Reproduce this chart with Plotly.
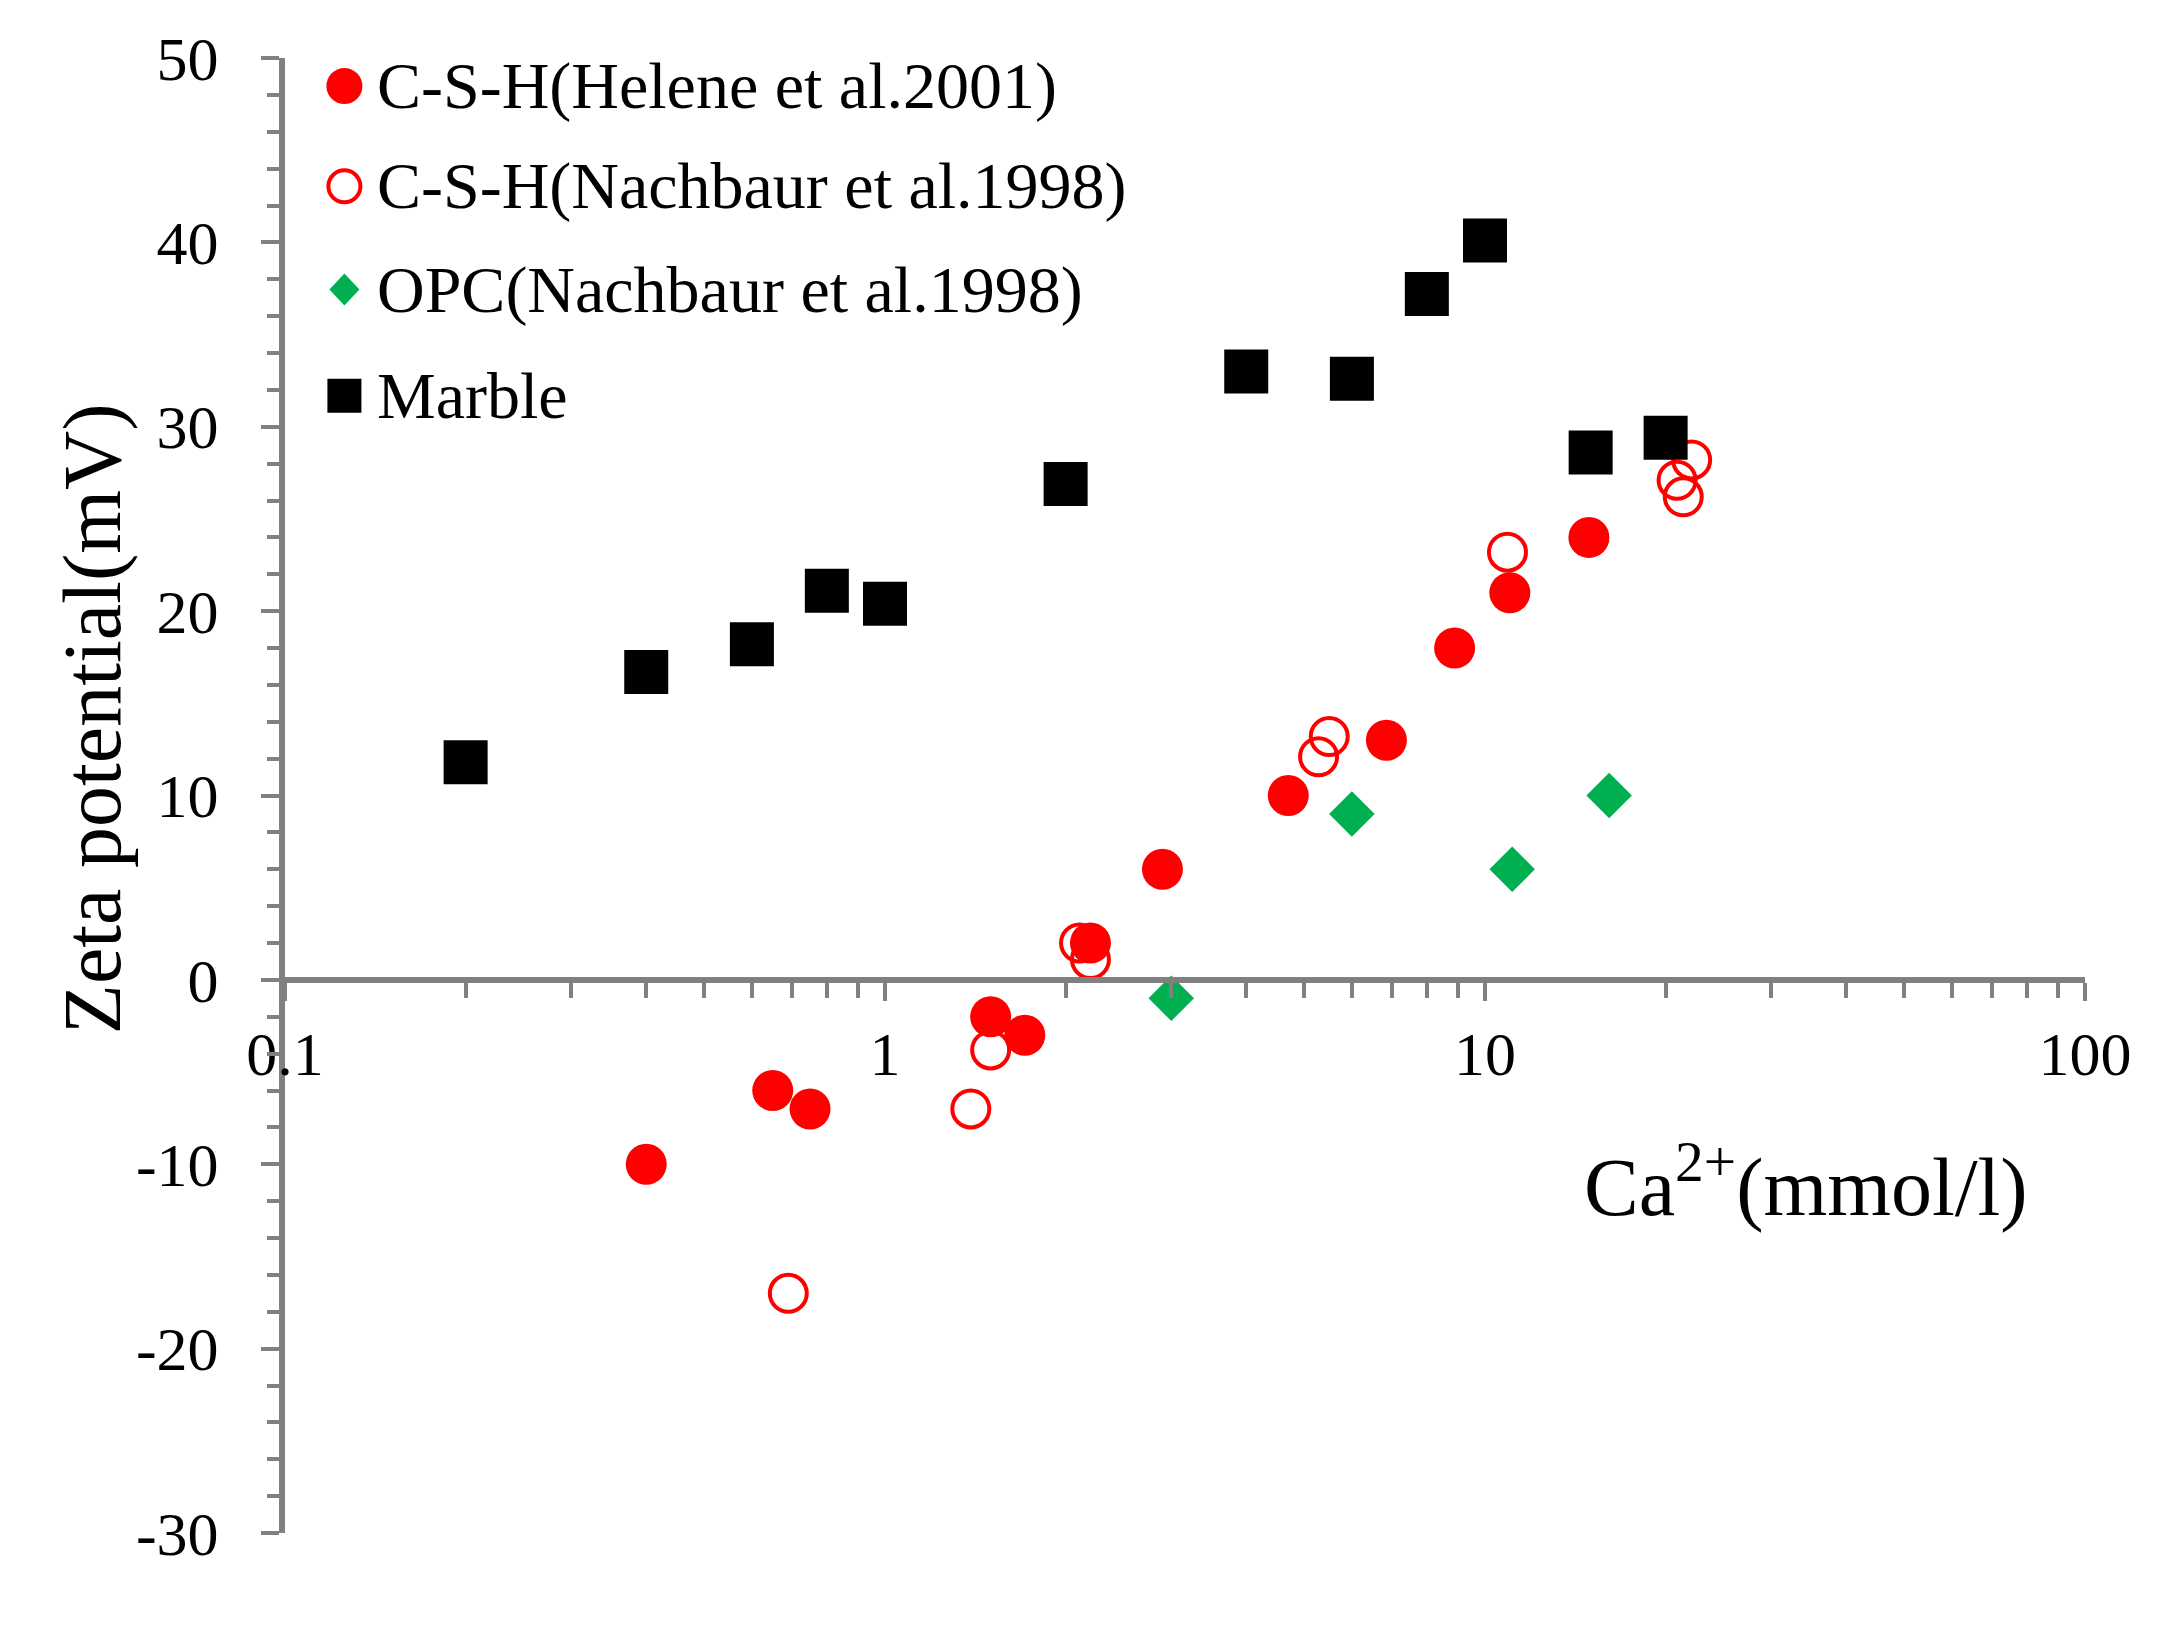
import plotly.graph_objects as go

# ---- data ----
marble_x = [0.2, 0.4, 0.6, 0.8, 1.0, 2.0, 4.0, 6.0, 8.0, 10.0, 15.0, 20.0]
marble_y = [11.8, 16.7, 18.2, 21.1, 20.4, 26.9, 33.0, 32.6, 37.2, 40.1, 28.6, 29.4]

helene_x = [0.4, 0.65, 0.75, 1.5, 1.71, 2.2, 2.9, 4.7, 6.85, 8.9, 11.0, 14.9]
helene_y = [-10.0, -6.0, -7.0, -2.0, -3.0, 2.0, 6.0, 10.0, 13.0, 18.0, 21.0, 24.0]

nach_x = [0.69, 1.39, 1.5, 2.11, 2.2, 5.28, 5.5, 10.9, 20.9, 21.4, 22.1]
nach_y = [-17.0, -7.0, -3.8, 2.0, 1.1, 12.1, 13.2, 23.2, 27.1, 26.2, 28.2]

opc_x = [3.0, 6.0, 11.1, 16.1]
opc_y = [-1.0, 9.0, 6.0, 10.0]

series_names = ["C-S-H(Helene et al.2001)", "C-S-H(Nachbaur et al.1998)",
                "OPC(Nachbaur et al.1998)", "Marble"]

x_major_vals = [0.1, 1, 10, 100]
x_major_text = ["0.1", "1", "10", "100"]
x_minor_vals = [m * d for d in (0.1, 1, 10) for m in range(2, 10)]
y_major_vals = [50, 40, 30, 20, 10, 0, -10, -20, -30]
y_major_text = ["50", "40", "30", "20", "10", "0", "-10", "-20", "-30"]

x_title = "Ca<sup>2+</sup>(mmol/l)"
y_title = "Zeta potential(mV)"

FONT = "Liberation Serif"
AXC = "#808080"
RED = "#FF0000"
GREEN = "#00B050"
BLACK = "#000000"

fig = go.Figure()
fig.add_trace(go.Scatter(x=helene_x, y=helene_y, mode="markers", name=series_names[0],
                         marker=dict(symbol="circle", size=41, color=RED)))
fig.add_trace(go.Scatter(x=nach_x, y=nach_y, mode="markers", name=series_names[1],
                         marker=dict(symbol="circle-open", size=37, color=RED,
                                     line=dict(width=4, color=RED))))
fig.add_trace(go.Scatter(x=opc_x, y=opc_y, mode="markers", name=series_names[2],
                         marker=dict(symbol="diamond", size=35, color=GREEN)))
fig.add_trace(go.Scatter(x=marble_x, y=marble_y, mode="markers", name=series_names[3],
                         marker=dict(symbol="square", size=44, color=BLACK)))

fig.update_layout(
    width=2178, height=1644,
    margin=dict(l=277, r=101, t=50, b=119),
    paper_bgcolor="white", plot_bgcolor="white",
    font=dict(family=FONT, size=62, color="black"),
    showlegend=False,
    xaxis=dict(type="log", range=[-1, 2], anchor="free", position=0.375,
               showline=True, linecolor=AXC, linewidth=6, showgrid=False, zeroline=False,
               tickmode="array", tickvals=x_major_vals, ticktext=x_major_text,
               ticks="outside", ticklen=18, tickwidth=4, tickcolor=AXC,
               ticklabelstandoff=0,
               tickfont=dict(family=FONT, size=62, color="black"),
               minor=dict(tickmode="array", tickvals=x_minor_vals, ticks="outside",
                          ticklen=15, tickwidth=4, tickcolor=AXC, showgrid=False)),
    yaxis=dict(range=[-30, 50], showline=True, linecolor=AXC, linewidth=6,
               showgrid=False, zeroline=False,
               tickmode="array", tickvals=y_major_vals, ticktext=y_major_text,
               ticks="outside", ticklen=18, tickwidth=4, tickcolor=AXC,
               ticklabelstandoff=30,
               tickfont=dict(family=FONT, size=62, color="black"),
               minor=dict(dtick=2, ticks="outside", ticklen=12, tickwidth=4,
                          tickcolor=AXC, showgrid=False)),
)

# ---- custom legend (larger symbols than Plotly's built-in legend allows) ----
leg_rows = [0.981, 0.913, 0.843, 0.771]
leg_mx = 0.033
leg_tx = 0.050
leg_common = dict(xref="paper", yref="paper", xsizemode="pixel", ysizemode="pixel",
                  xanchor=leg_mx)
# filled circle
fig.add_shape(type="circle", yanchor=leg_rows[0], x0=-18, x1=18, y0=-18, y1=18,
              fillcolor=RED, line=dict(width=0), **leg_common)
# open circle
fig.add_shape(type="circle", yanchor=leg_rows[1], x0=-16, x1=16, y0=-16, y1=16,
              fillcolor="rgba(0,0,0,0)", line=dict(width=4, color=RED), **leg_common)
# diamond
fig.add_shape(type="path", yanchor=leg_rows[2], path="M 0 16 L 15 0 L 0 -16 L -15 0 Z",
              fillcolor=GREEN, line=dict(width=0), **leg_common)
# square
fig.add_shape(type="rect", yanchor=leg_rows[3], x0=-17, x1=17, y0=-17, y1=17,
              fillcolor=BLACK, line=dict(width=0), **leg_common)

for name, ry in zip(series_names, leg_rows):
    fig.add_annotation(text=name, xref="paper", yref="paper", x=leg_tx, y=ry,
                       xanchor="left", yanchor="middle", showarrow=False,
                       font=dict(family=FONT, size=66, color="black"))

fig.add_annotation(text=x_title, xref="paper", yref="paper",
                   x=0.845, y=0.238,
                   xanchor="center", yanchor="middle", showarrow=False,
                   font=dict(family=FONT, size=82, color="black"))
fig.add_annotation(text=y_title, xref="paper", yref="paper",
                   x=-0.107, y=0.552,
                   xanchor="center", yanchor="middle", showarrow=False, textangle=-90,
                   font=dict(family=FONT, size=82, color="black"))

fig.write_html("out.html")
